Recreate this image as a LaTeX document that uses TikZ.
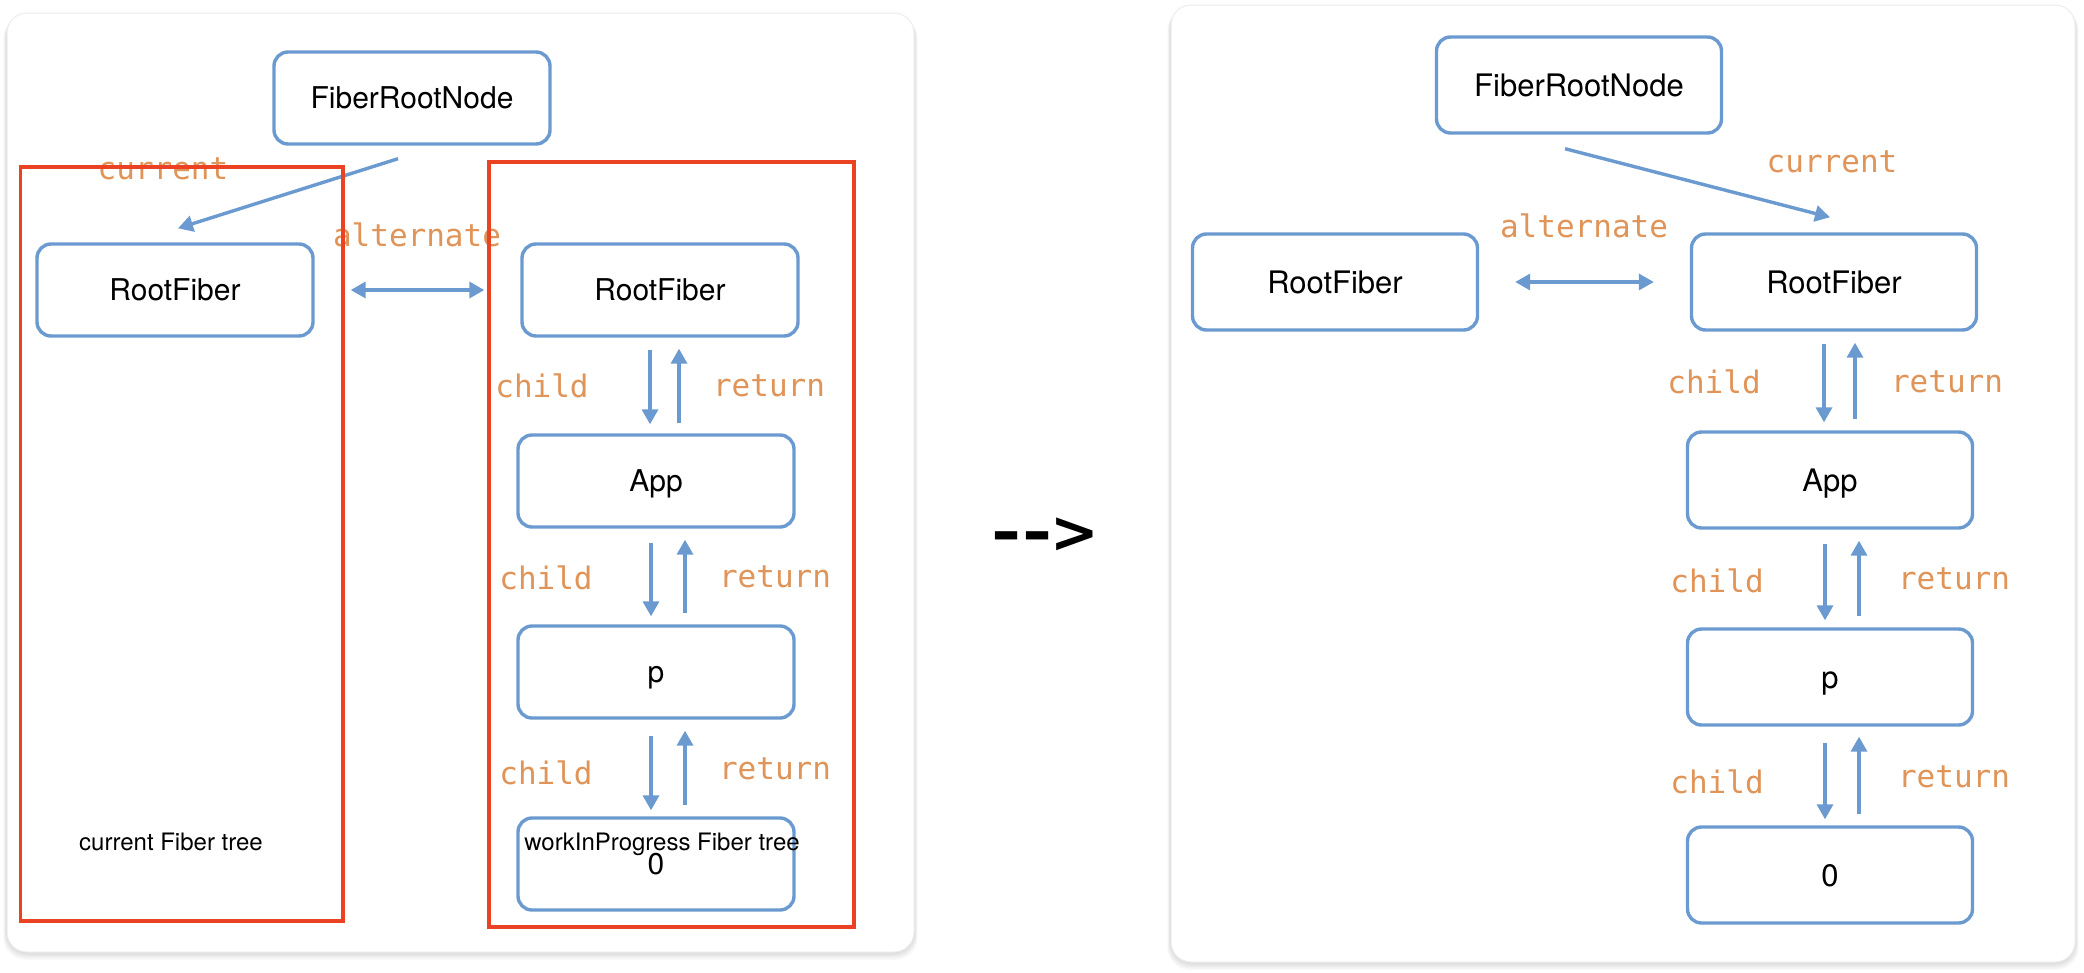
\documentclass[tikz,border=0pt]{standalone}
\usepackage{fontspec}
\setmainfont{TeX Gyre Heros}
\newfontfamily\monof{DejaVu Sans Mono}
\newfontfamily\dejab{DejaVu Sans}
\usetikzlibrary{arrows.meta,calc}
\definecolor{fblue}{RGB}{106,154,208}
\definecolor{forange}{RGB}{224,148,88}
\definecolor{fred}{RGB}{236,66,36}
\begin{document}
\begin{tikzpicture}[x=1pt,y=-1pt,
  fboxL/.style={draw=fblue, line width=3.4pt, rounded corners=14pt, minimum width=276pt, minimum height=92pt, text height=21pt, text depth=0pt, inner sep=0pt, font=\fontsize{30}{36}\selectfont, fill=white},
  fboxR/.style={draw=fblue, line width=3.4pt, rounded corners=14pt, minimum width=285pt, minimum height=96pt, text height=22pt, text depth=0pt, inner sep=0pt, font=\fontsize{31}{37}\selectfont, fill=white},
  arr/.style={draw=fblue, line width=3.4pt, -{Triangle[length=15pt,width=16pt]}},
  dbl/.style={draw=fblue, line width=3.4pt, {Triangle[length=15pt,width=16pt]}-{Triangle[length=15pt,width=16pt]}},
  lbl/.style={text=forange, font=\monof\fontsize{31}{36}\selectfont, anchor=base, inner sep=0pt},
  ttl/.style={font=\fontsize{24}{28}\selectfont, anchor=base, inner sep=0pt},
  frame/.style={draw=fred, line width=3.6pt},
  card/.style={fill=white, draw=black!7, line width=1pt, rounded corners=20pt},
  shade/.style={fill=black, opacity=0.025, rounded corners=22pt}]
\useasboundingbox (0,0) rectangle (2084,972);
\fill[white] (0,0) rectangle (2084,972);
% cards with soft shadow
\foreach \i in {1,...,6}{
  \fill[shade] (7-\i*0.6,13+\i*0.6) rectangle (914+\i*0.6,952+\i*1.3);
  \fill[shade] (1171-\i*0.6,5+\i*0.6) rectangle (2075+\i*0.6,962+\i*1.3);
}
\draw[card] (7,13) rectangle (914,952);
\draw[card] (1171,5) rectangle (2075,962);

% ---------- left panel ----------
\node[fboxL] (frnA) at (412,98) {FiberRootNode};
\node[fboxL] (rfA1) at (175,290) {RootFiber};
\node[fboxL] (rfA2) at (660,290) {RootFiber};
\node[fboxL] (appA) at (656,481) {App};
\node[fboxL] (pA) at (656,672) {p};
\node[fboxL] (zA) at (656,864) {0};

\coordinate (xa1) at (650,0);
\coordinate (xa2) at (679,0);
\coordinate (xa3) at (651,0);
\coordinate (xa4) at (685,0);

\draw[arr] ([xshift=-14pt,yshift=-13pt]frnA.south) -- ([xshift=3pt,yshift=14pt]rfA1.north);
\draw[dbl, shorten <=36pt, shorten >=36pt] (rfA1.east) -- (rfA2.west);
\draw[arr, shorten <=12pt, shorten >=9pt] (rfA2.south -| xa1) -- (appA.north -| xa1);
\draw[arr, shorten <=10pt, shorten >=11pt] (appA.north -| xa2) -- (rfA2.south -| xa2);
\draw[arr, shorten <=14pt, shorten >=8pt] (appA.south -| xa3) -- (pA.north -| xa3);
\draw[arr, shorten <=11pt, shorten >=11pt] (pA.north -| xa4) -- (appA.south -| xa4);
\draw[arr, shorten <=16pt, shorten >=6pt] (pA.south -| xa3) -- (zA.north -| xa3);
\draw[arr, shorten <=11pt, shorten >=11pt] (zA.north -| xa4) -- (pA.south -| xa4);

\node[lbl] (lcurA) at (163,179) {current};
\node[lbl] (laltA) at (417,246) {alternate};
\node[lbl] (lchA1) at (542,397) {child};
\node[lbl] (lreA1) at (769,396) {return};
\node[lbl] (lchA2) at (546,589) {child};
\node[lbl] (lreA2) at (775,587) {return};
\node[lbl] (lchA3) at (546,784) {child};
\node[lbl] (lreA3) at (775,779) {return};

\node[ttl] (tcur) at (171,850) {current Fiber tree};
\node[ttl] (twip) at (662,850) {workInProgress Fiber tree};

\draw[frame] (20.5,167) rectangle (343,921);
\draw[frame] (489,162) rectangle (854,927);

% ---------- middle ----------
\node[font=\dejab\bfseries\fontsize{58}{60}\selectfont, inner sep=0pt] (goes) at (1045,535) {\scalebox{1.25}[1]{-}\kern1pt\scalebox{1.25}[1]{-}\kern-2pt>};

% ---------- right panel ----------
\node[fboxR] (frnB) at (1579,85) {FiberRootNode};
\node[fboxR] (rfB1) at (1335,282) {RootFiber};
\node[fboxR] (rfB2) at (1834,282) {RootFiber};
\node[fboxR] (appB) at (1830,480) {App};
\node[fboxR] (pB) at (1830,677) {p};
\node[fboxR] (zB) at (1830,875) {0};

\coordinate (xb1) at (1824,0);
\coordinate (xb2) at (1855,0);
\coordinate (xb3) at (1825,0);
\coordinate (xb4) at (1859,0);

\draw[arr] ([xshift=-14pt,yshift=-14pt]frnB.south) -- ([xshift=-4pt,yshift=15pt]rfB2.north);
\draw[dbl, shorten <=36pt, shorten >=36pt] (rfB1.east) -- (rfB2.west);
\draw[arr, shorten <=12pt, shorten >=8pt] (rfB2.south -| xb1) -- (appB.north -| xb1);
\draw[arr, shorten <=11pt, shorten >=11pt] (appB.north -| xb2) -- (rfB2.south -| xb2);
\draw[arr, shorten <=14pt, shorten >=7pt] (appB.south -| xb3) -- (pB.north -| xb3);
\draw[arr, shorten <=11pt, shorten >=11pt] (pB.north -| xb4) -- (appB.south -| xb4);
\draw[arr, shorten <=16pt, shorten >=6pt] (pB.south -| xb3) -- (zB.north -| xb3);
\draw[arr, shorten <=11pt, shorten >=10pt] (zB.north -| xb4) -- (pB.south -| xb4);

\node[lbl] (lcurB) at (1832,172) {current};
\node[lbl] (laltB) at (1584,237) {alternate};
\node[lbl] (lchB1) at (1714,393) {child};
\node[lbl] (lreB1) at (1947,392) {return};
\node[lbl] (lchB2) at (1717,592) {child};
\node[lbl] (lreB2) at (1954,589) {return};
\node[lbl] (lchB3) at (1717,793) {child};
\node[lbl] (lreB3) at (1954,787) {return};
\end{tikzpicture}
\end{document}
